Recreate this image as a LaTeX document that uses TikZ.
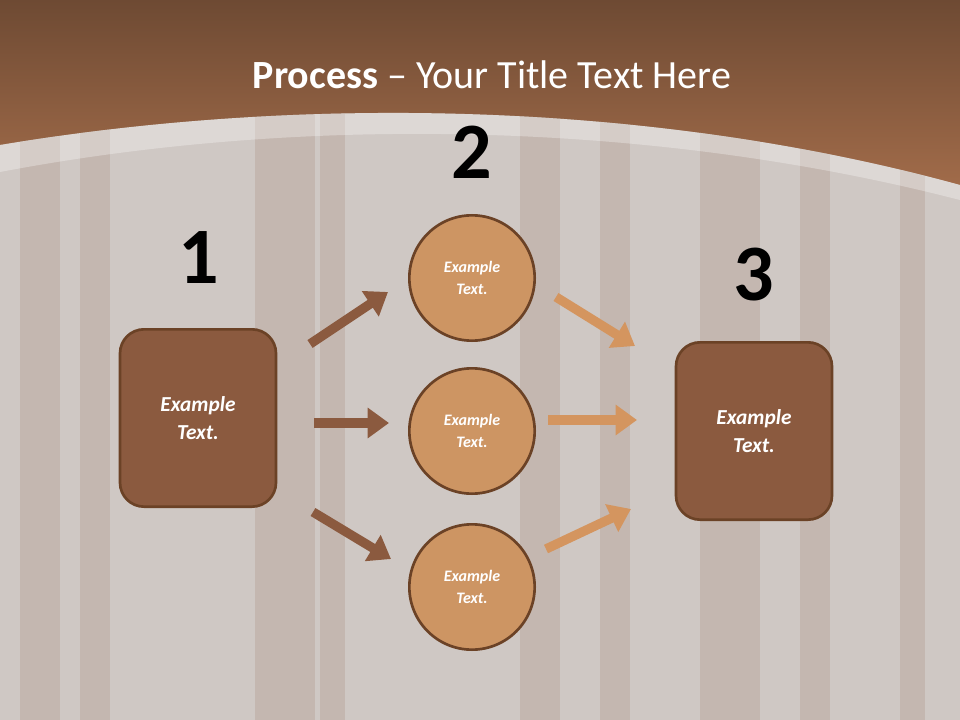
\documentclass[tikz,border=0pt]{standalone}
\usepackage{fontspec}
\setmainfont{Carlito}
\usetikzlibrary{arrows.meta}
\definecolor{bgc}{HTML}{CFC8C4}
\definecolor{topd}{HTML}{6E4A33}
\definecolor{topl}{HTML}{A26C4A}
\definecolor{boxc}{HTML}{8B5A3F}
\definecolor{edgec}{HTML}{6B4226}
\definecolor{circc}{HTML}{CD9563}
\definecolor{arrl}{HTML}{8B5A3F}
\definecolor{arrr}{HTML}{D4955F}
\definecolor{wood}{HTML}{B09A8C}
\begin{document}
\begin{tikzpicture}[x=0.75pt,y=-0.75pt,
  sq/.style={draw=edgec,line width=2pt,fill=boxc,rounded corners=18pt,minimum width=117pt,minimum height=133pt,text=white,font=\bfseries\itshape\fontsize{16}{21}\selectfont,align=center},
  circ/.style={circle,draw=edgec,line width=2pt,fill=circc,minimum size=94pt,text=white,font=\bfseries\itshape\fontsize{12}{17}\selectfont,align=center},
  num/.style={font=\bfseries\fontsize{60}{60}\selectfont},
  arl/.style={line width=7pt,draw=arrl,-{Triangle[length=16pt,width=22pt]}},
  arr/.style={line width=7pt,draw=arrr,-{Triangle[length=16pt,width=22pt]}}]
\useasboundingbox (0,0) rectangle (960,720);
\fill[bgc] (0,0) rectangle (960,720);
\shade[top color=topd,bottom color=topl] (0,0) rectangle (960,190);
\fill[bgc] (0,145) .. controls (300,95) and (650,100) .. (960,185) -- (960,190) -- (0,190) -- cycle;
\begin{scope}
\clip (0,145) .. controls (300,95) and (650,100) .. (960,185) -- (960,720) -- (0,720) -- cycle;
\foreach \x/\w in {20/40,80/30,255/60,320/25,520/40,600/30,700/60,800/30,900/25}
  \fill[wood,opacity=0.35] (\x,90) rectangle (\x+\w,720);
\end{scope}
\fill[white,opacity=0.3] (0,172) .. controls (300,115) and (650,120) .. (960,200) -- (960,185) .. controls (650,100) and (300,95) .. (0,145) -- cycle;
\node[text=white,font=\fontsize{30}{34}\selectfont] (title) at (492,75) {\textbf{Process} -- Your Title Text Here};
\node[sq] (b1) at (198,418) {Example\\Text.};
\node[sq] (b3) at (754,431) {Example\\Text.};
\node[circ] (c1) at (472,278) {Example\\Text.};
\node[circ] (c2) at (472,431) {Example\\Text.};
\node[circ] (c3) at (472,587) {Example\\Text.};
\node[num] (n1) at (199,258) {1};
\node[num] (n2) at (472,152) {2};
\node[num] (n3) at (754,275) {3};
\coordinate (a1s) at (310,344); \coordinate (a1e) at (388,292);
\coordinate (a2s) at (314,423); \coordinate (a2e) at (389,423);
\coordinate (a3s) at (313,512); \coordinate (a3e) at (391,559);
\coordinate (r1s) at (556,297); \coordinate (r1e) at (635,346);
\coordinate (r2s) at (548,420); \coordinate (r2e) at (637,420);
\coordinate (r3s) at (546,549); \coordinate (r3e) at (631,509);
\draw[arl] (a1s) -- (a1e);
\draw[arl] (a2s) -- (a2e);
\draw[arl] (a3s) -- (a3e);
\draw[arr] (r1s) -- (r1e);
\draw[arr] (r2s) -- (r2e);
\draw[arr] (r3s) -- (r3e);
\end{tikzpicture}
\end{document}
